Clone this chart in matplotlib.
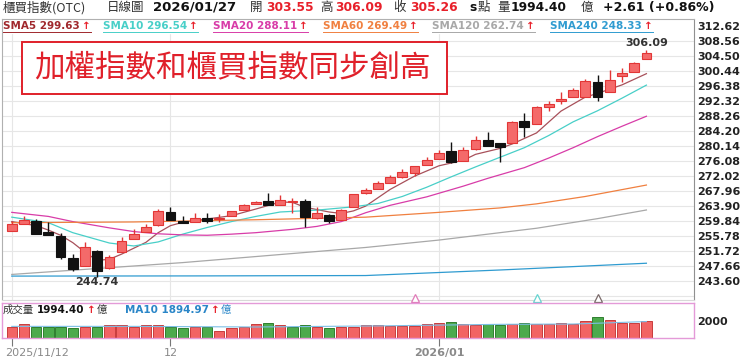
import matplotlib
matplotlib.use("Agg")
import matplotlib.pyplot as plt
from matplotlib.patches import Rectangle
from matplotlib.lines import Line2D
from matplotlib.transforms import ScaledTranslation

# 櫃買指數 日K (2025/11/12 ~ 2026/01/27)
opens = [257.14, 258.95, 259.85, 256.70, 255.70, 249.67, 247.67, 251.65, 246.96, 251.46,
         254.89, 256.71, 258.60, 262.28, 259.85, 259.49, 260.58, 260.22, 261.12, 262.74,
         264.37, 265.10, 264.09, 264.83, 265.26, 260.49, 261.39, 260.04, 263.63, 267.26,
         268.34, 270.13, 271.59, 272.84, 274.84, 276.63, 278.71, 276.00, 279.17, 281.69,
         280.79, 280.96, 286.91, 285.93, 290.70, 292.16, 293.24, 293.40, 297.30, 294.76,
         299.01, 300.01, 303.55]
highs = [259.85, 261.20, 260.20, 259.50, 256.40, 250.83, 254.00, 251.90, 250.60, 255.50,
         257.68, 258.95, 262.93, 263.47, 261.20, 261.85, 261.85, 261.58, 262.60, 264.30,
         265.30, 267.26, 266.72, 265.90, 265.64, 263.47, 261.60, 263.10, 267.20, 268.60,
         270.59, 272.21, 273.76, 274.70, 277.17, 278.98, 281.06, 279.87, 282.77, 283.85,
         280.90, 286.70, 289.07, 290.80, 292.32, 294.76, 295.84, 298.11, 299.28, 300.63,
         301.09, 302.90, 306.09]
lows = [257.10, 258.90, 256.20, 256.00, 249.60, 246.30, 247.60, 244.74, 246.90, 251.40,
        254.80, 256.70, 258.50, 260.00, 259.10, 259.40, 259.30, 259.58, 261.10, 262.70,
        264.30, 264.00, 264.00, 262.00, 258.22, 260.40, 259.30, 260.00, 263.60, 267.20,
        268.30, 270.10, 271.50, 271.94, 274.80, 276.60, 275.38, 275.90, 279.10, 280.00,
        275.81, 280.90, 282.58, 285.90, 289.62, 291.43, 293.20, 293.30, 292.32, 294.70,
        297.46, 300.00, 303.50]
closes = [258.95, 260.00, 256.25, 256.00, 249.94, 246.77, 252.81, 246.23, 250.10, 254.35,
          256.25, 258.22, 262.39, 260.04, 259.14, 260.66, 259.85, 260.66, 262.55, 264.18,
          264.91, 264.01, 265.45, 265.26, 260.93, 261.85, 259.85, 262.74, 267.07, 268.15,
          269.97, 271.59, 273.03, 274.65, 276.27, 278.09, 275.65, 278.98, 281.69, 280.06,
          279.87, 286.64, 285.29, 290.70, 291.43, 292.78, 295.22, 297.65, 293.40, 297.92,
          299.74, 302.65, 305.26]

# 成交量(億) 與漲跌(1=紅 0=綠)
volumes = [1303, 1649, 1303, 1303, 1303, 1107, 1222, 1303, 1453, 1453,
           1303, 1453, 1453, 1303, 1188, 1303, 1222, 842, 1153, 1222,
           1568, 1764, 1499, 1222, 1499, 1303, 1188, 1222, 1303, 1453,
           1499, 1418, 1418, 1418, 1568, 1764, 1879, 1649, 1499, 1614,
           1533, 1614, 1764, 1568, 1568, 1683, 1614, 1960, 2375, 2110,
           1730, 1730, 1994.40]
vol_up = [1, 1, 0, 0, 0, 0, 1, 0, 1, 1,
          1, 1, 1, 0, 0, 1, 0, 1, 1, 1,
          1, 0, 1, 0, 0, 1, 0, 1, 1, 1,
          1, 1, 1, 1, 1, 1, 0, 1, 1, 0,
          0, 1, 0, 1, 1, 1, 1, 1, 0, 1,
          1, 1, 1]
volma_idx = [0, 10, 20, 30, 40, 46, 52]
volma_val = [1340, 1340, 1270, 1395, 1576, 1611, 1895]

# 均線 (讀圖估計)
ma5_idx = [0, 2, 3, 4, 5, 6, 7, 8, 9, 10, 11, 12, 13, 14, 16, 18, 20, 22, 23, 24, 26, 27,
           28, 29, 31, 33, 35, 37, 38, 40, 41, 43, 45, 47, 48, 50, 52]
ma5_val = [259.6, 258.5, 257.3, 255.9, 253.9, 251.3, 249.1, 249.4, 250.8, 252.4, 254.0,
           256.6, 258.5, 259.4, 260.3, 261.2, 263.0, 264.9, 264.8, 263.5, 262.2, 261.8,
           262.5, 263.8, 268.3, 271.9, 274.7, 276.2, 277.8, 279.4, 280.6, 283.6, 289.5,
           293.3, 294.3, 296.6, 299.63]
ma10_idx = [0, 3, 5, 8, 10, 12, 14, 16, 18, 20, 22, 25, 28, 30, 32, 34, 36, 38, 40, 42,
            44, 46, 48, 50, 52]
ma10_val = [260.8, 259.3, 256.6, 253.8, 253.0, 254.1, 256.2, 258.0, 259.6, 261.0, 262.2,
            262.7, 263.6, 264.5, 266.4, 268.9, 271.7, 274.4, 277.0, 279.6, 282.9, 286.6,
            289.6, 293.0, 296.54]
ma20_idx = [0, 3, 5, 8, 10, 12, 14, 16, 18, 20, 23, 25, 27, 29, 31, 34, 37, 39, 42, 44,
            46, 48, 50, 52]
ma20_val = [262.1, 261.0, 259.6, 257.9, 256.9, 256.3, 256.0, 255.9, 256.2, 256.6, 257.5,
            258.3, 259.6, 262.0, 264.0, 266.3, 269.2, 271.3, 274.2, 276.8, 279.6, 282.6,
            285.4, 288.11]
ma60_idx = [0, 10, 20, 29, 35, 40, 43, 47, 52]
ma60_val = [259.3, 259.5, 260.1, 260.8, 262.1, 263.3, 264.4, 266.4, 269.49]
ma120_idx = [0, 14, 29, 35, 43, 48, 52]
ma120_val = [245.3, 248.5, 252.6, 254.6, 257.8, 260.4, 262.74]
ma240_idx = [0, 15, 29, 40, 52]
ma240_val = [244.85, 244.9, 245.0, 246.5, 248.33]

ma_names = ["SMA5", "SMA10", "SMA20", "SMA60", "SMA120", "SMA240"]
ma_last = ["299.63", "296.54", "288.11", "269.49", "262.74", "248.33"]

price_labels = ["312.62", "308.56", "304.50", "300.44", "296.38", "292.32", "288.26",
                "284.20", "280.14", "276.08", "272.02", "267.96", "263.90", "259.84",
                "255.78", "251.72", "247.66", "243.60"]
extra_grid = [239.54]
date_tick_idx = [0, 13, 35]
date_tick_labels = ["2025/11/12", "12", "2026/01"]
signal_idx = [33, 43, 48]

RED = "#e8202a"
MA_COLORS = ["#a8505a", "#48cfc8", "#d83ca8", "#f08040", "#a8a8a8", "#2f9bd0"]
SIGNAL_COLORS = ["#e07ab8", "#66d4d0", "#7a6a6a"]
LATIN = ["DejaVu Sans"]
CJK = ["Noto Sans CJK TC", "DejaVu Sans"]

W, H = 740, 361
fig = plt.figure(figsize=(W / 100, H / 100), dpi=100)
fig.patch.set_facecolor("white")


def fx(x):
    return x / W


def fy(y):
    return 1 - y / H


# ---- 主圖 ----
ax = fig.add_axes([fx(2), fy(300), 692 / W, 281 / H])
ax.set_xlim(-0.8, 55.9)
ax.set_ylim(238.38, 314.43)

price_ticks = [float(v) for v in price_labels]
for v in price_ticks + extra_grid:
    ax.axhline(v, color="#e6e6e6", lw=0.8, zorder=0)
for i in date_tick_idx:
    ax.axvline(i, color="#e6e6e6", lw=0.8, zorder=0)

ax.yaxis.tick_right()
ax.set_yticks(price_ticks)
ax.set_yticklabels(price_labels)
ax.tick_params(axis="y", length=0, pad=2.5, labelsize=8, labelcolor="#222")
for t in ax.get_yticklabels():
    t.set_fontweight("bold")
ax.set_xticks([])

for s in ax.spines.values():
    s.set_zorder(6)
ax.spines["left"].set_color("#b0b0b0")
ax.spines["right"].set_color("#909090")
ax.spines["top"].set_color("#b0b0b0")
ax.spines["bottom"].set_color("#d8d8d8")

# 均線
ma_sets = [(ma5_idx, ma5_val), (ma10_idx, ma10_val), (ma20_idx, ma20_val),
           (ma60_idx, ma60_val), (ma120_idx, ma120_val), (ma240_idx, ma240_val)]
for (xs, ys), c in zip(ma_sets, MA_COLORS):
    ax.plot(xs, ys, color=c, lw=0.9, zorder=2)

# K棒
for i in range(len(closes)):
    o, h, l, c = opens[i], highs[i], lows[i], closes[i]
    up = c >= o
    edge = "#e23636" if up else "#111111"
    face = "#f46a6a" if up else "#111111"
    ax.vlines(i, l, h, color=edge, lw=1.0, zorder=3)
    body = max(abs(c - o), 0.15)
    ax.add_patch(Rectangle((i - 0.4, min(o, c)), 0.8, body, facecolor=face,
                           edgecolor=edge, lw=0.8, zorder=4))

# 最高/最低標示
hi_i = highs.index(max(highs))
lo_i = lows.index(min(lows))
ax.annotate(f"{highs[hi_i]:.2f}", (hi_i, highs[hi_i]), xytext=(0, 1),
            textcoords="offset points", ha="center", va="bottom",
            fontsize=8, fontweight="bold", color="#333", zorder=7)
ax.annotate(f"{lows[lo_i]:.2f}", (lo_i, lows[lo_i]), xytext=(0, -0.5),
            textcoords="offset points", ha="center", va="top",
            fontsize=8, fontweight="bold", color="#333", zorder=7)

# 交叉訊號
for i, c in zip(signal_idx, SIGNAL_COLORS):
    ax.plot(i, 239.0, marker="^", ms=6, mfc="white", mec=c, mew=0.9,
            clip_on=False, zorder=7)

# 圖例底色
ax.add_patch(Rectangle((0, (300 - 33) / 281), 1, 1 - (300 - 33) / 281,
                       transform=ax.transAxes, color="white", zorder=5))

# ---- 成交量 ----
vax = fig.add_axes([fx(2), fy(338), 692 / W, 35 / H])
vax.set_xlim(-0.8, 55.9)
vax.set_ylim(0, 4036)
vcol = ["#f26464" if u else "#4caa4c" for u in vol_up]
vedge = ["#c83c3c" if u else "#2f7f2f" for u in vol_up]
vax.bar(range(len(volumes)), volumes, width=0.84, color=vcol, edgecolor=vedge,
        lw=0.7, zorder=2)
vax.plot(volma_idx, volma_val, color="#7cbfe6", lw=0.8, zorder=3)
for s in vax.spines.values():
    s.set_color("#e49ad8")
    s.set_linewidth(1.0)
vax.yaxis.tick_right()
vax.set_yticks([2000])
vax.set_yticklabels(["2000"])
vax.tick_params(axis="y", length=0, pad=2.5, labelsize=8, labelcolor="#222")
for t in vax.get_yticklabels():
    t.set_fontweight("bold")

vax.set_xticks(date_tick_idx)
vax.set_xticklabels(date_tick_labels)
vax.tick_params(axis="x", direction="out", length=6, width=0.8, color="#777",
                pad=1.5, labelsize=8, labelcolor="#8a8a8a")
xl = vax.get_xticklabels()
xl[0].set_ha("left")
xl[0].set_transform(xl[0].get_transform() + ScaledTranslation(-0.07, 0, fig.dpi_scale_trans))
xl[2].set_fontweight("bold")

# ---- 文字 ----
renderer = fig.canvas.get_renderer()


def put(x, y, s, color, size, weight="normal", family=LATIN, ha="left"):
    return fig.text(fx(x), fy(y), s, color=color, fontsize=size, fontweight=weight,
                    family=family, ha=ha, va="center")


def x_end(t):
    return t.get_window_extent(renderer).x1


header = [
    (3, "櫃買指數(OTC)", "#333", "normal", CJK, 9),
    (107, "日線圖", "#333", "normal", CJK, 9),
    (153, "2026/01/27", "#111", "bold", LATIN, 9.5),
    (250, "開", "#333", "normal", CJK, 9),
    (266, "303.55", RED, "bold", LATIN, 8.8),
    (320, "高", "#333", "normal", CJK, 9),
    (335, "306.09", RED, "bold", LATIN, 8.8),
    (393, "收", "#333", "normal", CJK, 9),
    (410, "305.26", RED, "bold", LATIN, 8.8),
    (469, "s", "#111", "bold", LATIN, 8.8),
    (478, "點", "#333", "normal", CJK, 9),
    (497, "量", "#333", "normal", CJK, 9),
    (511, "1994.40", "#111", "bold", LATIN, 8.8),
    (581, "億", "#333", "normal", CJK, 9),
    (603, "+2.61 (+0.86%)", "#111", "bold", LATIN, 9),
]
for x, s, c, w, fam, sz in header:
    put(x, 7.5, s, c, sz, w, fam)

legend_x = [3, 103, 213, 323, 432, 550]
for x, name, val, c in zip(legend_x, ma_names, ma_last, MA_COLORS):
    c_txt = "#a0282d" if name == "SMA5" else c
    t = put(x, 26, f"{name} {val}", c_txt, 7.5, "bold")
    a = put(x_end(t) + 2, 26, "↑", RED, 7.5, "bold")
    x2 = x_end(a)
    fig.add_artist(Line2D([fx(x), fx(x2)], [fy(32.3), fy(32.3)], color=c_txt,
                          lw=0.7, transform=fig.transFigure))

# 量能標籤
t = put(3, 310, "成交量", "#333", 7.5, "normal", CJK)
t = put(37, 310, "1994.40", "#111", 7.5, "bold")
a = put(x_end(t) + 2, 310, "↑", RED, 7.5, "bold")
put(x_end(a) + 1, 310, "億", "#333", 7.5, "normal", CJK)
t = put(125, 310, "MA10 1894.97", "#2a86c8", 7.5, "bold")
a = put(x_end(t) + 2, 310, "↑", RED, 7.5, "bold")
put(x_end(a) + 1, 310, "億", "#2a86c8", 7.5, "normal", CJK)

# 標題框
fig.add_artist(Rectangle((fx(22), fy(94)), (446.7 - 22) / W, (94 - 41.7) / H,
                         transform=fig.transFigure, facecolor="white",
                         edgecolor="#e0202a", lw=1.4, zorder=10))
fig.text(fx(232), fy(67.5), "加權指數和櫃買指數同步創高", color="#e0202a",
         fontsize=22, family=CJK, ha="center", va="center", zorder=11)

fig.savefig("out.png", dpi=100, facecolor="white")
